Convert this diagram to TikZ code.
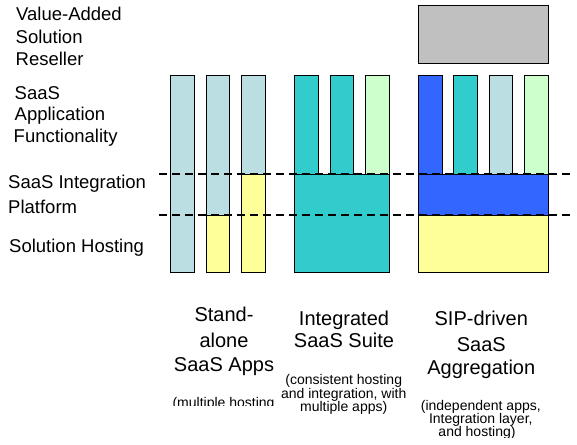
\documentclass[tikz,border=0pt]{standalone}
\usepackage{fontspec}
\setmainfont{Liberation Sans}
\definecolor{paleblue}{HTML}{BBDEE2}
\definecolor{teal}{HTML}{33CCCC}
\definecolor{palegreen}{HTML}{CCFFCC}
\definecolor{paleyellow}{HTML}{FFFF99}
\definecolor{royal}{HTML}{3366FF}
\definecolor{greybox}{HTML}{C0C0C0}
\begin{document}
\begin{tikzpicture}[x=1pt,y=-1pt,
  block/.style={draw=black, line width=1pt},
  divider/.style={draw=black, line width=2pt, dash pattern=on 8pt off 5pt},
  leftlbl/.style={font=\fontsize{18.5}{22}\selectfont, anchor=base west, inner sep=0pt},
  collbl/.style={font=\fontsize{20}{24}\selectfont, anchor=base, inner sep=0pt},
  notelbl/.style={font=\fontsize{14}{14}\selectfont, anchor=base, inner sep=0pt}]
\clip (0,0) rectangle (577,444);
\fill[white] (0,0) rectangle (577,444);

% left labels
\node[leftlbl] (l1a) at (16,20.7) {Value-Added};
\node[leftlbl] (l1b) at (15.5,43.3) {Solution};
\node[leftlbl] (l1c) at (15.5,65.3) {Reseller};
\node[leftlbl] (l2a) at (14.5,99) {SaaS};
\node[leftlbl] (l2b) at (14.5,120.7) {Application};
\node[leftlbl] (l2c) at (13.5,142.3) {Functionality};
\node[leftlbl] (l3a) at (8,188) {SaaS Integration};
\node[leftlbl] (l3b) at (8,213) {Platform};
\node[leftlbl] (l4a) at (9,252.3) {Solution Hosting};

% column 1: stand-alone
\draw[block, fill=paleblue] (170.3,75.3) rectangle (194.3,272.3);
\draw[block, fill=paleblue] (206.3,75.3) rectangle (229.3,215);
\draw[block, fill=paleyellow] (206.3,215) rectangle (229.3,272.3);
\draw[block, fill=paleblue] (241.3,75.3) rectangle (265.7,174);
\draw[block, fill=paleyellow] (241.3,174) rectangle (265.7,272.3);

% column 2: integrated suite
\draw[block, fill=teal] (294.3,174) rectangle (389.3,272.3);
\draw[block, fill=teal] (294.3,75.3) rectangle (318.3,174);
\draw[block, fill=teal] (330.3,75.3) rectangle (353.3,174);
\draw[block, fill=palegreen] (365.7,75.3) rectangle (389.3,174);

% column 3: aggregation
\draw[block, fill=greybox] (418.3,5.3) rectangle (548.3,63.3);
\draw[block, fill=royal] (418.3,75.3) rectangle (442.3,174);
\draw[block, fill=teal] (453.7,75.3) rectangle (477.3,174);
\draw[block, fill=paleblue] (489.3,75.3) rectangle (512.7,174);
\draw[block, fill=palegreen] (524.7,75.3) rectangle (548.3,174);
\draw[block, fill=royal] (418.3,174) rectangle (548.3,215);
\draw[block, fill=paleyellow] (418.3,215) rectangle (548.3,272.3);

% dashed layer dividers
\coordinate (d1s) at (159.3,174);
\coordinate (d1e) at (572,174);
\coordinate (d2s) at (159.3,215);
\coordinate (d2e) at (572,215);
\draw[divider] (d1s) -- (d1e);
\draw[divider] (d2s) -- (d2e);

% column labels
\node[collbl] (c1a) at (224,321.7) {Stand-};
\node[collbl] (c1b) at (224,347.2) {alone};
\node[collbl] (c1c) at (224,371.7) {SaaS Apps};
\begin{scope}
\clip (150,380) rectangle (290,405);
\node[notelbl] (n1a) at (223.5,407) {(multiple hosting};
\end{scope}

\node[collbl] (c2a) at (344,325) {Integrated};
\node[collbl] (c2b) at (344,347.7) {SaaS Suite};
\node[notelbl] (n2a) at (343.7,384.3) {(consistent hosting};
\node[notelbl] (n2b) at (343.7,398.3) {and integration, with};
\node[notelbl] (n2c) at (343.7,411.7) {multiple apps)};

\node[collbl] (c3a) at (481.3,325.7) {SIP-driven};
\node[collbl] (c3b) at (481.3,351.7) {SaaS};
\node[collbl] (c3c) at (481.3,374) {Aggregation};
\node[notelbl] (n3a) at (480.8,410) {(independent apps,};
\node[notelbl] (n3b) at (480.8,423.3) {Integration layer,};
\begin{scope}
\clip (400,425) rectangle (560,437.7);
\node[notelbl] (n3c) at (477,436.7) {and hosting)};
\end{scope}
\end{tikzpicture}
\end{document}
